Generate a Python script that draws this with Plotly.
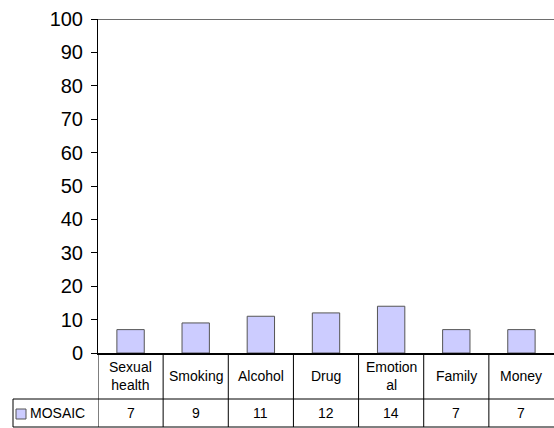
import plotly.graph_objects as go

categories = ["Sexual health", "Smoking", "Alcohol", "Drug", "Emotional", "Family", "Money"]
category_labels = ["Sexual<br>health", "Smoking", "Alcohol", "Drug", "Emotion<br>al", "Family", "Money"]
series_name = "MOSAIC"
values = [7, 9, 11, 12, 14, 7, 7]
y_ticks = list(range(0, 101, 10))

W, H = 554, 428
ML, MR, MT, MB = 98, 0, 19, 75
PW = W - ML - MR
PH = H - MT - MB

def py(pix):  # pixel y -> paper y
    return (H - MB - pix) / PH

def px(pix):  # pixel x -> paper x
    return (pix - ML) / PW

FONT = "Liberation Sans, Arial, sans-serif"
fill = "#CCCCFF"
edge = "#555555"

fig = go.Figure()
fig.add_trace(go.Bar(
    x=categories, y=values, name=series_name,
    marker=dict(color=fill, line=dict(color=edge, width=1)),
    width=0.42, showlegend=False,
))

shapes = []
annotations = []
row1_bottom = py(399)
row2_bottom = py(427)
n = len(categories)
# top gray line at 100
shapes.append(dict(type="line", xref="paper", yref="y", x0=0, x1=1.01, y0=100, y1=100,
                   line=dict(color="#6e6e6e", width=2)))
# table vertical lines (right border falls outside the visible area)
for i in range(n):
    shapes.append(dict(type="line", xref="x", yref="paper", x0=i - 0.5, x1=i - 0.5,
                       y0=0, y1=row2_bottom, line=dict(color="black", width=1)))
# horizontal lines
for yy in (row1_bottom, row2_bottom):
    shapes.append(dict(type="line", xref="paper", yref="paper", x0=px(13), x1=1.01,
                       y0=yy, y1=yy, line=dict(color="black", width=1)))
shapes.append(dict(type="line", xref="paper", yref="paper", x0=px(13), x1=px(13),
                   y0=row1_bottom, y1=row2_bottom, line=dict(color="black", width=1)))
# legend key square
shapes.append(dict(type="rect", xref="paper", yref="paper", x0=px(16), x1=px(26),
                   y0=py(419), y1=py(409), fillcolor=fill, line=dict(color=edge, width=1)))
annotations.append(dict(xref="paper", yref="paper", x=px(28), y=py(413), text=series_name,
                        showarrow=False, xanchor="left", yanchor="middle",
                        font=dict(family=FONT, size=14, color="black")))

for cat, lab, v in zip(categories, category_labels, values):
    annotations.append(dict(xref="x", yref="paper", x=cat, y=py(376), text=lab,
                            showarrow=False, xanchor="center", yanchor="middle",
                            font=dict(family=FONT, size=14, color="black")))
    annotations.append(dict(xref="x", yref="paper", x=cat, y=py(413), text=str(v),
                            showarrow=False, xanchor="center", yanchor="middle",
                            font=dict(family=FONT, size=14, color="black")))

fig.update_layout(
    width=W, height=H,
    margin=dict(l=ML, r=MR, t=MT, b=MB, pad=0),
    paper_bgcolor="white", plot_bgcolor="white",
    shapes=shapes, annotations=annotations,
    xaxis=dict(range=[-0.5, n - 0.5], showticklabels=False, ticks="",
               showline=True, linecolor="black", linewidth=1.5, showgrid=False,
               zeroline=False, fixedrange=True),
    yaxis=dict(range=[0, 100], tickvals=y_ticks, ticks="outside", ticklen=6,
               tickcolor="black", showline=True, linecolor="black", linewidth=1,
               showgrid=False, zeroline=False,
               tickfont=dict(family=FONT, size=20, color="black"),
               ticklabelstandoff=4),
)

fig.write_html("out.html", config={"displayModeBar": False},
               post_script="document.body.style.margin='0';document.body.style.overflow='hidden';")
